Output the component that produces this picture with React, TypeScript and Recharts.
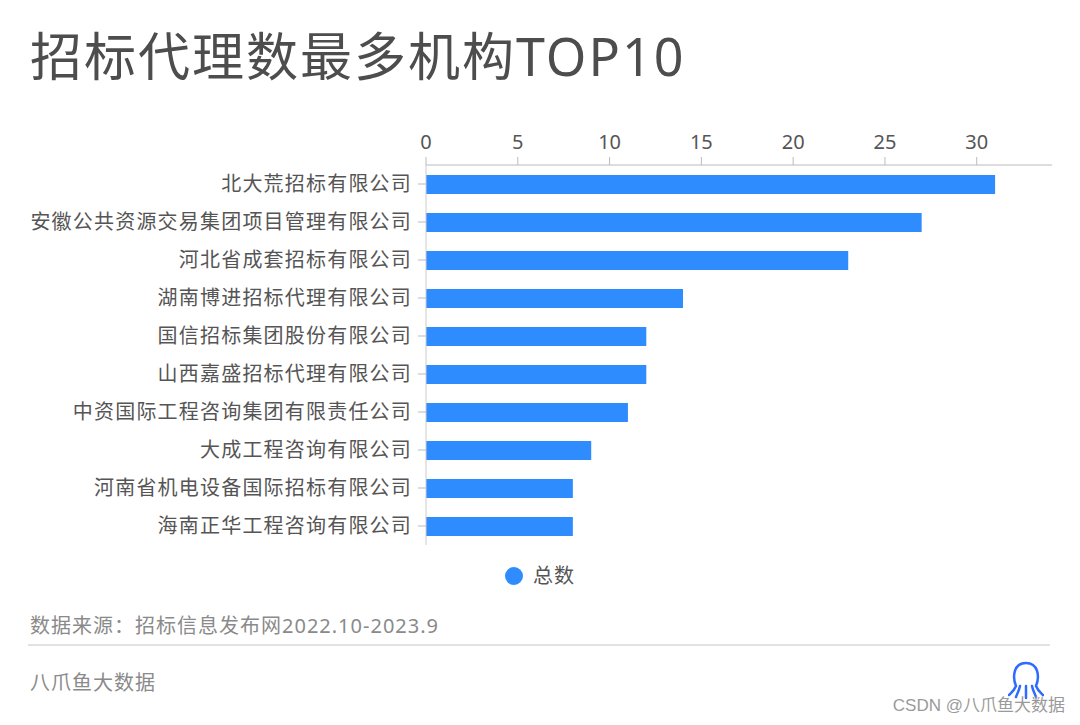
import React from 'react';
import { BarChart, Bar, XAxis, YAxis, Legend } from 'recharts';

const categories = [
  '北大荒招标有限公司',
  '安徽公共资源交易集团项目管理有限公司',
  '河北省成套招标有限公司',
  '湖南博进招标代理有限公司',
  '国信招标集团股份有限公司',
  '山西嘉盛招标代理有限公司',
  '中资国际工程咨询集团有限责任公司',
  '大成工程咨询有限公司',
  '河南省机电设备国际招标有限公司',
  '海南正华工程咨询有限公司',
];
const totals = [31, 27, 23, 14, 12, 12, 11, 9, 8, 8];
const xTicks = [0, 5, 10, 15, 20, 25, 30];
const seriesName = '总数';

const data = categories.map((name, i) => ({ name, value: totals[i] }));

const FONT = '"Noto Sans", "Noto Sans CJK SC", sans-serif';
const BLUE = '#2F8CFF';

const LegendContent = () => (
  <div style={{ paddingTop: 19, paddingLeft: 28, display: 'flex', justifyContent: 'center', alignItems: 'center', height: 24, fontFamily: FONT }}>
    <svg width={18} height={18} style={{ marginRight: 10 }}>
      <circle cx={9} cy={9} r={9} fill={BLUE} />
    </svg>
    <span style={{ fontSize: 20, letterSpacing: 1, color: '#555', lineHeight: '24px' }}>{seriesName}</span>
  </div>
);

export default function App() {
  return (
    <div style={{ position: 'absolute', left: 0, top: 0, width: 1080, height: 725, background: '#fff', fontFamily: FONT, overflow: 'hidden' }}>
      <div style={{ position: 'absolute', left: 30, top: 30, fontSize: 52, letterSpacing: 2, lineHeight: 1, color: '#4d4d4d', whiteSpace: 'nowrap' }}>
        招标代理数最多机构TOP10
      </div>
      <div style={{ position: 'absolute', left: 0, top: 0 }}>
        <BarChart
          width={1080}
          height={600}
          data={data}
          layout="vertical"
          margin={{ top: 125, right: 28, bottom: 12, left: 0 }}
          barSize={19}
        >
          <XAxis
            type="number"
            orientation="top"
            domain={[0, 34.1]}
            ticks={xTicks}
            height={40}
            tickSize={8}
            tickMargin={8}
            axisLine={{ stroke: '#bbb' }}
            tickLine={{ stroke: '#bbb' }}
            tick={{ fill: '#555', fontSize: 20, fontFamily: FONT }}
          />
          <YAxis
            type="category"
            dataKey="name"
            width={426}
            tickSize={8}
            tickMargin={6}
            axisLine={{ stroke: '#ccc' }}
            tickLine={{ stroke: '#bbb' }}
            tick={{ fill: '#555', fontSize: 20, fontFamily: FONT, letterSpacing: 1.2 }}
            interval={0}
          />
          <Legend verticalAlign="bottom" content={<LegendContent />} />
          <Bar dataKey="value" name={seriesName} fill={BLUE} isAnimationActive={false} />
        </BarChart>
      </div>
      <div style={{ position: 'absolute', left: 30, top: 613, fontSize: 20, letterSpacing: 1, lineHeight: '26px', color: '#8a8a8a', whiteSpace: 'nowrap' }}>
        数据来源：招标信息发布网2022.10-2023.9
      </div>
      <div style={{ position: 'absolute', left: 28, top: 644, width: 1022, height: 2, background: '#e2e2e2' }} />
      <div style={{ position: 'absolute', left: 30, top: 670, fontSize: 20, letterSpacing: 1, lineHeight: '26px', color: '#8a8a8a', whiteSpace: 'nowrap' }}>
        八爪鱼大数据
      </div>
      <svg style={{ position: 'absolute', left: 1008, top: 660 }} width={36} height={40}>
        <path
          d="M8 26 C4 16 6 3 18 3 C30 3 32 16 28 26 M8 26 C6 31 3 33 1 35 M12 26 C11 31 9 34 8 37 M18 26 L18 38 M24 26 C25 31 27 34 28 37 M28 26 C30 31 33 33 35 35"
          fill="none"
          stroke="#2F6BFF"
          strokeWidth={2.5}
          strokeLinecap="round"
        />
      </svg>
      <div style={{ position: 'absolute', right: 15, top: 694, fontSize: 17, lineHeight: '24px', color: '#9a9a9a', whiteSpace: 'nowrap', fontFamily: '"Liberation Sans", "Noto Sans CJK SC", sans-serif' }}>
        CSDN @八爪鱼大数据
      </div>
    </div>
  );
}
